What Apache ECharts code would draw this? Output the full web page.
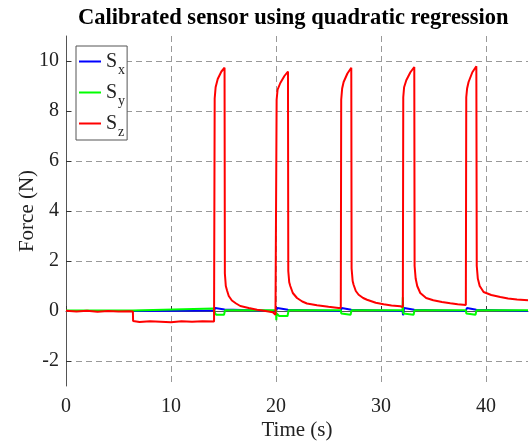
<!DOCTYPE html>
<html>
<head>
<meta charset="utf-8">
<script src="https://cdn.jsdelivr.net/npm/echarts@6/dist/echarts.min.js"></script>
<style>
    html, body { margin: 0; padding: 0; background: #fff; }
    #chart { width: 532px; height: 443px; }
</style>
</head>
<body>
<div id="chart"></div>
<script>
// Sz: 5 press cycles, times (s) and force (N)
const szTime = [0, 1, 2, 3, 4, 5, 6, 6.37,
    6.39, 7, 8, 9, 10, 11, 12, 13, 14.1,
    14.12, 14.16, 14.25, 14.45, 14.8, 15.1,
    15.13, 15.22, 15.33, 15.5, 15.8, 16.2, 16.6, 17.4, 18.2, 19.0, 19.7, 19.95, 20.03,
    20.06, 20.15, 20.41, 20.8, 21.14,
    21.17, 21.26, 21.36, 21.6, 22.0, 22.5, 22.95, 23.9, 25.0, 25.96, 26.17,
    26.19, 26.21, 26.3, 26.44, 26.8, 27.17,
    27.2, 27.3, 27.39, 27.6, 27.87, 28.3, 28.67, 29.5, 30.25, 31.0, 31.84, 32.08,
    32.1, 32.12, 32.2, 32.41, 32.8, 33.17,
    33.2, 33.3, 33.45, 33.74, 34.3, 34.98, 35.8, 36.6, 37.3, 38.08,
    38.1, 38.12, 38.2, 38.34, 38.7, 39.08,
    39.12, 39.22, 39.4, 39.77, 40.5, 41.36, 42.1, 42.95, 44];
const szForce = [0.01, -0.02, 0.01, -0.03, 0.0, -0.02, -0.01, -0.02,
    -0.4, -0.44, -0.41, -0.43, -0.45, -0.41, -0.43, -0.41, -0.42,
    -0.42, 8.5, 8.95, 9.28, 9.58, 9.73,
    1.5, 1.0, 0.83, 0.6, 0.42, 0.3, 0.2, 0.12, 0.05, 0.0, -0.05, -0.15, -0.18,
    8.45, 8.85, 9.12, 9.4, 9.58,
    1.6, 1.15, 1.0, 0.72, 0.52, 0.38, 0.3, 0.23, 0.17, 0.12, 0.12,
    0.12, 8.45, 8.9, 9.16, 9.5, 9.73,
    1.7, 1.2, 1.05, 0.8, 0.65, 0.52, 0.45, 0.33, 0.27, 0.22, 0.19, 0.16,
    0.16, 8.55, 8.95, 9.23, 9.55, 9.76,
    1.8, 1.3, 1.0, 0.72, 0.52, 0.43, 0.36, 0.31, 0.27, 0.24,
    0.24, 8.55, 8.9, 9.16, 9.55, 9.79,
    1.8, 1.3, 1.0, 0.76, 0.64, 0.56, 0.5, 0.46, 0.43];

// Sx
const sxTime = [0, 6.37, 6.39, 14.1, 14.2, 15.1, 15.2, 20.0, 20.05, 20.12,
    21.14, 21.2, 26.17, 26.25, 27.17, 27.25, 32.05, 32.1, 32.2, 33.17,
    33.25, 38.08, 38.18, 39.08, 39.15, 44];
const sxForce = [0, 0, 0.02, 0.02, 0.12, 0.06, 0.0, 0.0, 0.05, 0.12,
    0.05, 0.0, 0.0, 0.12, 0.05, 0.0, 0.0, -0.17, 0.12, 0.05,
    0.0, 0.0, 0.12, 0.05, 0.0, 0.0];

// Sy
const syTime = [0, 6.37, 6.39, 14.1, 14.15, 14.3, 15.05, 15.15, 20.0, 20.03,
    20.06, 20.1, 20.3, 21.1, 21.2, 26.17, 26.22, 26.4, 27.1, 27.2,
    32.05, 32.08, 32.12, 32.3, 33.1, 33.2, 38.08, 38.13, 38.3, 39.0,
    39.1, 44];
const syForce = [0.02, 0.02, 0.1, 0.1, -0.05, -0.15, -0.15, 0.03, 0.03, -0.37,
    -0.1, -0.15, -0.2, -0.2, 0.03, 0.03, -0.1, -0.15, -0.15, 0.03,
    0.03, 0.55, -0.1, -0.15, -0.15, 0.03, 0.03, -0.1, -0.15, -0.15,
    0.03, 0.03];

const xTicks = [0, 10, 20, 30, 40];
const yTicks = [-2, 0, 2, 4, 6, 8, 10];

const seriesNames = ['Sx', 'Sy', 'Sz'];
const subs = { Sx: 'x', Sy: 'y', Sz: 'z' };

const zip = (t, v) => t.map((x, i) => [x, v[i]]);

const font = 'Liberation Serif';
const chart = echarts.init(document.getElementById('chart'));

const axisCommon = {
    axisLine: { show: true, lineStyle: { color: '#555', width: 1 } },
    axisTick: { show: true, inside: true, length: 5, lineStyle: { color: '#333' } },
    splitLine: { show: true, lineStyle: { color: '#999', type: [6, 4], width: 1 } },
    nameMoveOverlap: false,
    nameTextStyle: { fontFamily: font, fontSize: 21, color: '#222' }
};

const option = {
    animation: false,
    title: {
        text: 'Calibrated sensor using quadratic regression',
        left: 78,
        top: 7,
        padding: 0,
        textStyle: { fontFamily: font, fontWeight: 'bold', fontSize: 22.5, color: '#000' }
    },
    legend: {
        orient: 'vertical',
        left: 76,
        top: 46,
        padding: [0, 2, 1, 3],
        itemGap: 0,
        itemWidth: 22,
        itemHeight: 2,
        icon: 'rect',
        backgroundColor: '#fff',
        borderColor: '#555',
        borderWidth: 1,
        borderRadius: 0,
        data: seriesNames,
        formatter: name => '{s|S}{sub|' + subs[name] + '}',
        textStyle: {
            fontFamily: font,
            color: '#222',
            rich: {
                s: { fontFamily: font, fontSize: 20, lineHeight: 20, padding: [2, 0, 2, 0] },
                sub: { fontFamily: font, fontSize: 14, lineHeight: 7, padding: [17, 0, 0, 1] }
            }
        }
    },
    grid: { left: 66, right: 4, top: 36, bottom: 57, containLabel: false, outerBoundsMode: 'none' },
    xAxis: Object.assign({}, axisCommon, {
        type: 'value',
        min: 0,
        max: 44,
        name: 'Time (s)',
        nameLocation: 'middle',
        nameGap: 34,
        axisTick: Object.assign({}, axisCommon.axisTick, { customValues: xTicks }),
        axisLabel: { customValues: xTicks, fontFamily: font, fontSize: 20, color: '#222', margin: 11 }
    }),
    yAxis: Object.assign({}, axisCommon, {
        type: 'value',
        min: -3,
        max: 11,
        name: 'Force (N)',
        nameLocation: 'middle',
        nameGap: 28,
        axisTick: Object.assign({}, axisCommon.axisTick, { customValues: yTicks }),
        axisLabel: { customValues: yTicks, fontFamily: font, fontSize: 20, color: '#222', margin: 7 }
    }),
    series: [
        { name: 'Sx', type: 'line', data: zip(sxTime, sxForce), symbol: 'none', lineStyle: { color: '#0000ff', width: 2 }, itemStyle: { color: '#0000ff' } },
        { name: 'Sy', type: 'line', data: zip(syTime, syForce), symbol: 'none', lineStyle: { color: '#00ff00', width: 2 }, itemStyle: { color: '#00ff00' } },
        { name: 'Sz', type: 'line', data: zip(szTime, szForce), symbol: 'none', lineStyle: { color: '#ff0000', width: 2 }, itemStyle: { color: '#ff0000' } }
    ]
};
chart.setOption(option);
</script>
</body>
</html>
